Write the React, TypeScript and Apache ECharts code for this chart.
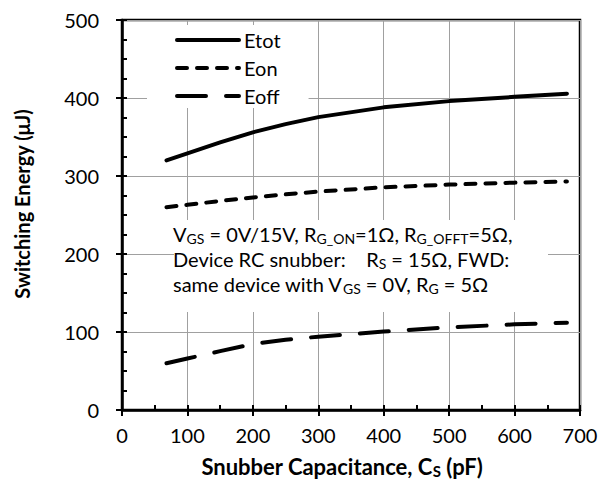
import React, { useEffect, useRef } from "react";
import * as echarts from "echarts";

const capacitance = [68, 100, 150, 200, 250, 300, 400, 500, 600, 680];
const etot = [320, 329, 343, 356, 366.5, 375.5, 388, 396, 401.5, 405.5];
const eon = [260, 263, 268, 272.5, 276.5, 280, 285.5, 289, 291.5, 293];
const eoff = [60, 66, 75.5, 84.5, 90, 94, 100.5, 106, 109.8, 112];
const seriesNames = ["Etot", "Eon", "Eoff"];

const FONT = "Lato, 'DejaVu Sans', sans-serif";

function pairs(ys: number[]) {
  return capacitance.map((x, i) => [x, ys[i]]);
}

export default function App() {
  const ref = useRef<HTMLDivElement>(null);
  useEffect(() => {
    if (!ref.current) return;
    const chart = echarts.init(ref.current, undefined, { renderer: "svg" });
    const gridLine = { show: true, lineStyle: { color: "#a0a0a0", width: 1 } };
    const base = (s: number) => ({
      fontFamily: FONT,
      fontSize: s,
      color: "#000",
    });
    const rich = {
      n: { ...base(20), lineHeight: 25 },
      s: { ...base(14), lineHeight: 14, padding: [10, 0, 0, 0] },
      nb: { ...base(22), fontWeight: "bold", lineHeight: 26 },
      sb: { ...base(15), fontWeight: "bold", lineHeight: 15, padding: [10, 0, 0, 0] },
    };
    const lineCommon = {
      type: "line",
      showSymbol: false,
      symbol: "none",
      smooth: false,
      color: "#000",
    };
    chart.setOption({
      animation: false,
      backgroundColor: "#fff",
      grid: {
        left: 122,
        right: 23,
        top: 20,
        bottom: 73,
        show: true,
        borderColor: "#000",
        borderWidth: 2.5,
      },
      legend: {
        orient: "vertical",
        left: 147,
        top: 25,
        padding: [5, 28, 2, 28],
        backgroundColor: "#fff",
        itemWidth: 62,
        itemHeight: 14,
        itemGap: 8,
        selectedMode: false,
        itemStyle: { opacity: 0 },
        lineStyle: { width: 4, cap: "round" },
        textStyle: { ...base(20), lineHeight: 20, padding: [0, 0, 0, 0] },
        data: seriesNames,
      },
      xAxis: [
        {
          type: "value",
          min: 0,
          max: 700,
          interval: 100,
          position: "bottom",
          axisLine: { show: true, lineStyle: { color: "#000", width: 2.5 } },
          axisTick: { show: true, inside: false, length: 6, lineStyle: { color: "#000", width: 2 } },
          axisLabel: { ...base(20), margin: 15 },
          splitLine: gridLine,
        },
        {
          type: "value",
          min: 0,
          max: 700,
          interval: 100,
          position: "bottom",
          axisLine: { show: false },
          axisTick: { show: true, inside: true, length: 5, lineStyle: { color: "#000", width: 2 } },
          minorTick: { show: true, splitNumber: 2, length: 5, lineStyle: { color: "#000", width: 2 } },
          axisLabel: { show: false },
          splitLine: { show: false },
        },
      ],
      yAxis: [
        {
          type: "value",
          min: 0,
          max: 500,
          interval: 100,
          position: "left",
          axisLine: { show: true, lineStyle: { color: "#000", width: 2.5 } },
          axisTick: { show: true, inside: false, length: 6, lineStyle: { color: "#000", width: 2 } },
          axisLabel: { ...base(20), margin: 23 },
          splitLine: gridLine,
        },
        {
          type: "value",
          min: 0,
          max: 500,
          interval: 100,
          position: "left",
          axisLine: { show: false },
          axisTick: { show: true, inside: true, length: 5, lineStyle: { color: "#000", width: 2 } },
          minorTick: { show: true, splitNumber: 4, length: 5, lineStyle: { color: "#000", width: 2 } },
          axisLabel: { show: false },
          splitLine: { show: false },
        },
      ],
      graphic: [
        {
          type: "rect",
          shape: { x: 174, y: 220, width: 374, height: 92 },
          style: { fill: "#fff" },
          z: 5,
        },
        {
          type: "text",
          x: 173,
          y: 221,
          z: 6,
          style: {
            text:
              "{n|V}{s|GS}{n| = 0V/15V, R}{s|G_ON}{n|=1Ω, R}{s|G_OFFT}{n|=5Ω,}\n" +
              "{n|Device RC snubber:    R}{s|S}{n| = 15Ω, FWD:}\n" +
              "{n|same device with V}{s|GS}{n| = 0V, R}{s|G}{n| = 5Ω}",
            rich,
            ...base(20),
          },
        },
        {
          type: "text",
          x: 342,
          y: 466,
          z: 6,
          style: {
            text: "{nb|Snubber Capacitance, C}{sb|S}{nb| (pF)}",
            rich,
            align: "center",
            verticalAlign: "middle",
          },
        },
        {
          type: "text",
          x: 22,
          y: 204,
          rotation: Math.PI / 2,
          z: 6,
          style: {
            text: "Switching Energy (μJ)",
            ...base(20),
            fontWeight: "bold",
            align: "center",
            verticalAlign: "middle",
          },
        },
      ],
      series: [
        {
          ...lineCommon,
          name: seriesNames[0],
          data: pairs(etot),
          lineStyle: { color: "#000", width: 4, type: "solid", cap: "round", join: "round" },
        },
        {
          ...lineCommon,
          name: seriesNames[1],
          data: pairs(eon),
          lineStyle: { color: "#000", width: 4, type: [10, 10], cap: "round", join: "round" },
        },
        {
          ...lineCommon,
          name: seriesNames[2],
          data: pairs(eoff),
          lineStyle: { color: "#000", width: 4, type: [29, 20], cap: "round", join: "round" },
        },
      ],
    });
    return () => chart.dispose();
  }, []);
  return <div ref={ref} style={{ width: 603, height: 483, position: "absolute", left: 0, top: 0 }} />;
}
